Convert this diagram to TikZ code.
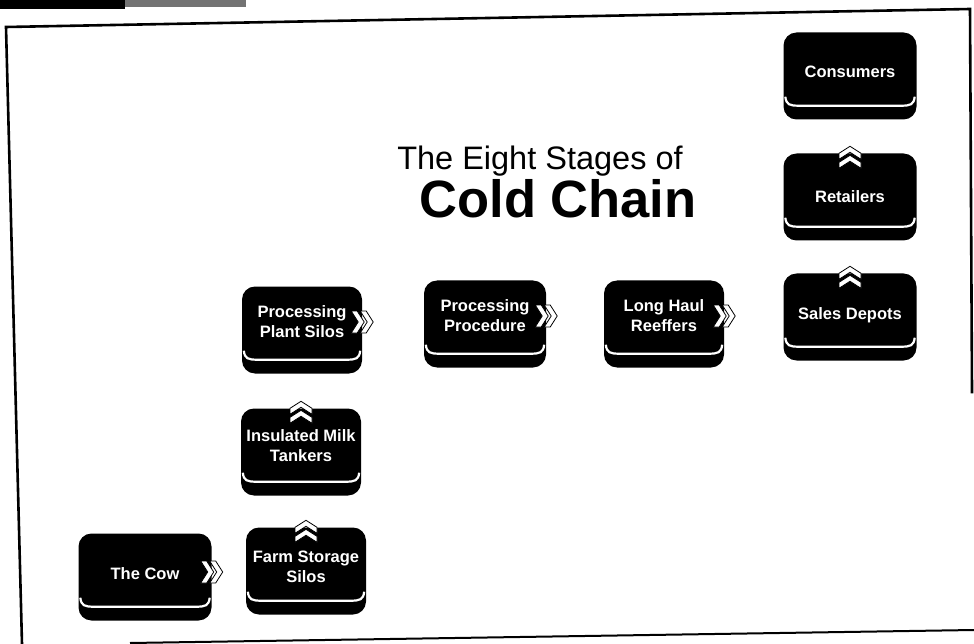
\documentclass[tikz,border=0pt]{standalone}
\usepackage{fontspec}
\setmainfont{Liberation Sans}
\begin{document}
\begin{tikzpicture}[x=1pt,y=-1pt,
  stagebox/.style={fill=black, rounded corners=13pt, minimum width=#1, minimum height=87pt, inner sep=0pt},
  stagetext/.style={text=white, font=\bfseries\fontsize{16.5}{20}\selectfont, align=center, inner sep=0pt},
  framel/.style={line width=2.6pt, line cap=rect},
  chev/.pic={
    \foreach \d in {-4,5}{
      \filldraw[fill=white, draw=black, line width=0.8pt]
        (\d-7,-11) -- (\d-1,-11) -- (\d+6,0) -- (\d-1,11) -- (\d-7,11) -- (\d,0) -- cycle;
    }
  }]
\useasboundingbox (0,0) rectangle (974,644);
% header strip and frame
\fill[black] (0,0) rectangle (125,9);
\fill[black!55] (125,0) rectangle (246,7);
\draw[framel] (22,644) -- (6,27) -- (970,9) -- (972,392);
\draw[line width=2pt] (130,643) -- (974,630);
% title
\node[anchor=base, font=\fontsize{32.5}{36}\selectfont, inner sep=0pt] (title1) at (540,170) {The Eight Stages of};
\node[anchor=base, font=\bfseries\fontsize{52.5}{56}\selectfont, inner sep=0pt] (title2) at (558,218) {Cold Chain};
% boxes
\node[stagebox=133pt] (cow) at (145,577) {};
\node[stagebox=120pt] (farm) at (306,571) {};
\node[stagebox=120pt] (tankers) at (301,452) {};
\node[stagebox=120pt] (plant) at (302,330) {};
\node[stagebox=122pt] (procedure) at (485,324) {};
\node[stagebox=120pt] (longhaul) at (664,324) {};
\node[stagebox=133pt] (sales) at (850,317) {};
\node[stagebox=133pt] (retailers) at (850,197) {};
\node[stagebox=133pt] (consumers) at (850,76) {};
% white base lines
\foreach \n in {cow,farm,tankers,plant,procedure,longhaul,sales,retailers,consumers}{
  \draw[white, line width=2.2pt]
    ([xshift=2pt,yshift=23pt]\n.south west) .. controls ([xshift=3pt,yshift=15pt]\n.south west) and ([xshift=6pt,yshift=14pt]\n.south west) .. ([xshift=16pt,yshift=14pt]\n.south west)
    -- ([xshift=-16pt,yshift=14pt]\n.south east)
    .. controls ([xshift=-6pt,yshift=14pt]\n.south east) and ([xshift=-3pt,yshift=15pt]\n.south east) .. ([xshift=-2pt,yshift=23pt]\n.south east);
}
% texts
\node[stagetext] (cowt) at ([yshift=3pt]cow.center) {The Cow};
\node[stagetext] (farmt) at ([yshift=4pt]farm.center) {Farm Storage\\Silos};
\node[stagetext] (tankerst) at ([yshift=6pt]tankers.center) {Insulated Milk\\Tankers};
\node[stagetext] (plantt) at ([yshift=8pt]plant.center) {Processing\\Plant Silos};
\node[stagetext] (proceduret) at ([yshift=8pt]procedure.center) {Processing\\Procedure};
\node[stagetext] (longhault) at ([yshift=8pt]longhaul.center) {Long Haul\\Reeffers};
\node[stagetext] (salest) at ([yshift=2pt]sales.center) {Sales Depots};
\node[stagetext] (retailerst) at ([yshift=0pt]retailers.center) {Retailers};
\node[stagetext] (consumerst) at ([yshift=4pt]consumers.center) {Consumers};
% chevron connectors
\pic at ([yshift=5pt]cow.east) {chev};
\pic[rotate=90] at ([yshift=-4pt]farm.north) {chev};
\pic[rotate=90] at ([yshift=-4pt]tankers.north) {chev};
\pic at ([yshift=8pt]plant.east) {chev};
\pic at ([yshift=8pt]procedure.east) {chev};
\pic at ([yshift=8pt]longhaul.east) {chev};
\pic[rotate=90] at ([yshift=-4pt]sales.north) {chev};
\pic[rotate=90] at ([yshift=-4pt]retailers.north) {chev};
\end{tikzpicture}
\end{document}
